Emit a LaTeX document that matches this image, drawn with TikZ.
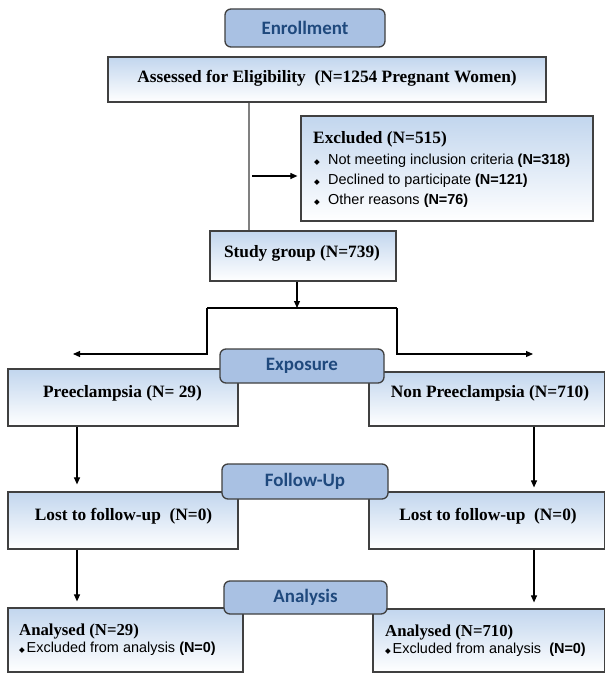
\documentclass[tikz,border=0pt]{standalone}
\usepackage{fontspec}
\setmainfont{Liberation Serif}
\setsansfont{Liberation Sans}
\newfontfamily\hdrfont{Carlito}
\newfontfamily\symfont{DejaVu Sans}
\usetikzlibrary{arrows.meta,calc}
\definecolor{hdrfill}{HTML}{A9C1E3}
\definecolor{hdrtext}{HTML}{1F497D}
\definecolor{boxtop}{HTML}{C2D6EE}
\definecolor{edge}{HTML}{404040}
\newcommand{\dmd}{{\symfont\fontsize{7.5}{8}\selectfont ◆}}
\tikzset{
  hdr/.style={draw=edge, line width=1.3bp, fill=hdrfill, rounded corners=6bp, text=hdrtext,
    font=\hdrfont\bfseries\fontsize{19}{21}\selectfont, inner sep=0pt},
  box/.style={draw=edge, line width=1.2bp, top color=boxtop, bottom color=white, inner sep=0pt},
  stxt/.style={font=\bfseries\fontsize{17.4}{20}\selectfont, inner sep=0pt},
  atxt/.style={font=\bfseries\fontsize{16.8}{20}\selectfont, inner sep=0pt},
  ltxt/.style={font=\sffamily\fontsize{14.5}{18}\selectfont, inner sep=0pt},
  conn/.style={line width=1.1bp, draw=black},
  gconn/.style={line width=1.3bp, draw=gray},
  arr/.style={conn, -{Triangle[length=7bp,width=6bp]}}
}
\begin{document}
\begin{tikzpicture}[x=1bp,y=-1bp]
\fill[white] (0,0) rectangle (605,674);
\useasboundingbox (0,0) rectangle (605,674);

% boxes
\node[box, minimum width=438bp, minimum height=45bp] (assess) at (327,79.5) {};
\node[box, minimum width=292bp, minimum height=105bp] (excl) at (447,168.5) {};
\node[box, minimum width=186bp, minimum height=50bp] (sg) at (303,256) {};
\node[box, minimum width=230bp, minimum height=57bp] (pe) at (123,397.5) {};
\node[box, minimum width=235.5bp, minimum height=54bp] (npe) at (486.75,399) {};
\node[box, minimum width=230bp, minimum height=57bp] (lostl) at (123,520.5) {};
\node[box, minimum width=235.5bp, minimum height=57bp] (lostr) at (486.75,520.5) {};
\node[box, minimum width=235bp, minimum height=64bp] (anl) at (125.5,640) {};
\node[box, minimum width=231.5bp, minimum height=63bp] (anr) at (488.75,640.5) {};

% texts
\node[stxt, anchor=base] (tassess) at (327,83) {Assessed for Eligibility \ (N=1254 Pregnant Women)};
\node[stxt, anchor=base west] (texcl) at (313,143) {Excluded (N=515)};
\node[ltxt, anchor=base west] (tex1) at (314,164) {\makebox[14bp][l]{\dmd}Not meeting inclusion criteria \textbf{(N=318)}};
\node[ltxt, anchor=base west] (tex2) at (314,184) {\makebox[14bp][l]{\dmd}Declined to participate \textbf{(N=121)}};
\node[ltxt, anchor=base west] (tex3) at (314,204) {\makebox[14bp][l]{\dmd}Other reasons \textbf{(N=76)}};
\node[stxt, anchor=base] (tsg) at (302,257) {Study group (N=739)};
\node[stxt, anchor=base] (tpe) at (122.5,397) {Preeclampsia (N= 29)};
\node[stxt, anchor=base] (tnpe) at (490,397) {Non Preeclampsia (N=710)};
\node[stxt, anchor=base] (tlostl) at (123.5,520) {Lost to follow-up \ (N=0)};
\node[stxt, anchor=base] (tlostr) at (488,520) {Lost to follow-up \ (N=0)};
\node[atxt, anchor=base west] (tanl) at (19,635) {Analysed (N=29)};
\node[ltxt, anchor=base west] (tanl2) at (19,652) {\makebox[7.5bp][l]{\dmd}Excluded from analysis \textbf{(N=0)}};
\node[atxt, anchor=base west] (tanr) at (385,636) {Analysed (N=710)};
\node[ltxt, anchor=base west] (tanr2) at (385,653) {\makebox[7.5bp][l]{\dmd}Excluded from analysis \ \textbf{(N=0)}};

% connectors
\coordinate (vx) at (249,0);
\draw[gconn] (assess.south -| vx) -- (sg.north -| vx);
\coordinate (exs) at (252,176);
\draw[arr, shorten >=3bp] (exs) -- (exs -| excl.west);
\coordinate (split) at (297,308);
\draw[arr] (sg.south -| split) -- (split);
\coordinate (bl) at (207,308);
\coordinate (br) at (397,308);
\coordinate (al) at (73,354);
\coordinate (ar) at (533,354);
\draw[conn] (bl) -- (br);
\draw[arr] (bl) |- (al);
\draw[arr] (br) |- (ar);
\coordinate (lx) at (77,0);
\coordinate (rx) at (534,0);
\draw[arr, shorten >=7bp] (pe.south -| lx) -- (lostl.north -| lx);
\draw[arr, shorten >=4bp] (npe.south -| rx) -- (lostr.north -| rx);
\draw[arr, shorten >=6bp] (lostl.south -| lx) -- (anl.north -| lx);
\draw[arr, shorten >=6bp] (lostr.south -| rx) -- (anr.north -| rx);

% headers
\node[hdr, minimum width=160bp, minimum height=38bp] (enroll) at (305,28) {Enrollment};
\node[hdr, minimum width=164bp, minimum height=34bp] (expo) at (302,366) {Exposure};
\node[hdr, minimum width=166bp, minimum height=35bp] (fu) at (305,481.5) {Follow-Up};
\node[hdr, minimum width=163bp, minimum height=33bp] (ana) at (305.5,597.5) {Analysis};
\end{tikzpicture}
\end{document}
